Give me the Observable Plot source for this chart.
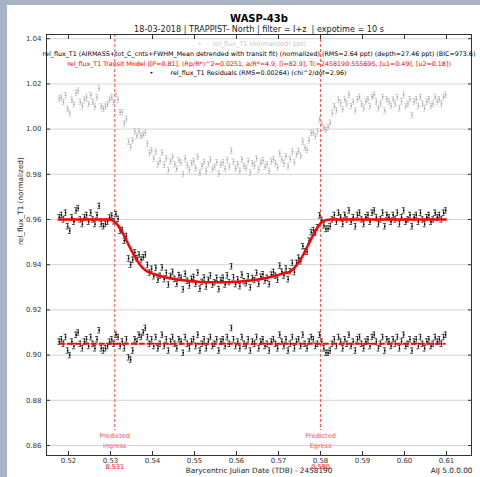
<!DOCTYPE html>
<html><head><meta charset="utf-8">
<script src="https://cdn.jsdelivr.net/npm/d3@7"></script>
<script src="https://cdn.jsdelivr.net/npm/@observablehq/plot@0.6"></script>
<style>
html,body{margin:0;padding:0;}
body{width:480px;height:477px;background:#a8b4c4;overflow:hidden;position:relative;font-family:"DejaVu Sans",sans-serif;}
#panel{position:absolute;left:7px;top:5px;width:473px;height:472px;background:#fff;}
#panel svg{position:absolute;left:0;top:0;overflow:visible;}
</style></head><body><div id="panel"></div>
<script>
// ---- data ----
const times = [
0.5178,0.5183,0.5188,0.5193,0.5198,0.5203,0.5208,0.5213,0.5218,0.5223,
0.5228,0.5233,0.5238,0.5243,0.5248,0.5253,0.5258,0.5263,0.5268,0.5273,
0.5278,0.5283,0.5288,0.5293,0.5298,0.5303,0.5308,0.5313,0.5318,0.5323,
0.5328,0.5333,0.5338,0.5343,0.5348,0.5353,0.5358,0.5363,0.5368,0.5373,
0.5378,0.5383,0.5388,0.5393,0.5398,0.5403,0.5408,0.5413,0.5418,0.5423,
0.5428,0.5433,0.5438,0.5443,0.5448,0.5453,0.5458,0.5463,0.5468,0.5473,
0.5478,0.5483,0.5488,0.5493,0.5498,0.5503,0.5508,0.5513,0.5518,0.5523,
0.5528,0.5533,0.5538,0.5543,0.5548,0.5553,0.5558,0.5563,0.5568,0.5573,
0.5578,0.5583,0.5588,0.5593,0.5598,0.5603,0.5608,0.5613,0.5618,0.5623,
0.5628,0.5633,0.5638,0.5643,0.5648,0.5653,0.5658,0.5663,0.5668,0.5673,
0.5678,0.5683,0.5688,0.5693,0.5698,0.5703,0.5708,0.5713,0.5718,0.5723,
0.5728,0.5733,0.5738,0.5743,0.5748,0.5753,0.5758,0.5763,0.5768,0.5773,
0.5778,0.5783,0.5788,0.5793,0.5798,0.5803,0.5808,0.5813,0.5818,0.5823,
0.5828,0.5833,0.5838,0.5843,0.5848,0.5853,0.5858,0.5863,0.5868,0.5873,
0.5878,0.5883,0.5888,0.5893,0.5898,0.5903,0.5908,0.5913,0.5918,0.5923,
0.5928,0.5933,0.5938,0.5943,0.5948,0.5953,0.5958,0.5963,0.5968,0.5973,
0.5978,0.5983,0.5988,0.5993,0.5998,0.6003,0.6008,0.6013,0.6018,0.6023,
0.6028,0.6033,0.6038,0.6043,0.6048,0.6053,0.6058,0.6063,0.6068,0.6073,
0.6078,0.6083,0.6088,0.6093,0.6098];

const grayFlux = [
1.0135,1.0140,1.0120,1.0150,1.0090,1.0070,1.0130,1.0110,1.0160,1.0170,
1.0120,1.0100,1.0130,1.0140,1.0110,1.0150,1.0120,1.0100,1.0140,1.0180,
1.0100,1.0090,1.0100,1.0110,1.0130,1.0140,1.0120,1.0155,1.0130,1.0075,
1.0075,1.0025,1.0045,0.9945,0.9920,0.9950,0.9990,0.9970,0.9990,0.9970,
0.9975,0.9985,0.9935,0.9895,0.9905,0.9868,0.9900,0.9844,0.9860,0.9895,
0.9842,0.9870,0.9818,0.9857,0.9876,0.9845,0.9824,0.9863,0.9852,0.9801,
0.9870,0.9840,0.9819,0.9849,0.9858,0.9828,0.9877,0.9807,0.9836,0.9855,
0.9815,0.9844,0.9864,0.9823,0.9833,0.9853,0.9803,0.9843,0.9853,0.9824,
0.9864,0.9834,0.9904,0.9855,0.9825,0.9845,0.9816,0.9866,0.9837,0.9827,
0.9858,0.9808,0.9849,0.9839,0.9870,0.9820,0.9851,0.9862,0.9833,0.9844,
0.9815,0.9856,0.9867,0.9848,0.9830,0.9892,0.9865,0.9848,0.9880,0.9834,
0.9867,0.9900,0.9853,0.9887,0.9904,0.9882,0.9945,0.9917,0.9908,0.9950,
0.9983,0.9985,0.9968,0.9990,1.0042,1.0024,1.0006,0.9997,1.0008,1.0028,
1.0070,1.0101,1.0082,1.0130,1.0115,1.0088,1.0130,1.0112,1.0152,1.0102,
1.0122,1.0082,1.0132,1.0142,1.0112,1.0092,1.0122,1.0132,1.0102,1.0142,
1.0152,1.0122,1.0092,1.0112,1.0142,1.0082,1.0132,1.0122,1.0102,1.0132,
1.0112,1.0142,1.0092,1.0122,1.0152,1.0102,1.0112,1.0132,1.0062,1.0122,
1.0132,1.0102,1.0142,1.0112,1.0092,1.0122,1.0132,1.0102,1.0112,1.0142,
1.0122,1.0132,1.0112,1.0142,1.0152];

const detrendedFlux = [
0.9610,0.9620,0.9600,0.9630,0.9570,0.9550,0.9610,0.9590,0.9640,0.9650,
0.9600,0.9580,0.9610,0.9620,0.9590,0.9630,0.9600,0.9580,0.9620,0.9660,
0.9580,0.9570,0.9580,0.9590,0.9609,0.9617,0.9592,0.9624,0.9603,0.9550,
0.9554,0.9506,0.9527,0.9428,0.9400,0.9422,0.9455,0.9429,0.9445,0.9423,
0.9433,0.9445,0.9399,0.9365,0.9382,0.9349,0.9386,0.9333,0.9351,0.9388,
0.9336,0.9364,0.9312,0.9350,0.9368,0.9337,0.9315,0.9354,0.9342,0.9291,
0.9360,0.9329,0.9308,0.9337,0.9346,0.9315,0.9365,0.9294,0.9324,0.9343,
0.9303,0.9333,0.9352,0.9312,0.9322,0.9342,0.9292,0.9332,0.9342,0.9312,
0.9353,0.9323,0.9393,0.9344,0.9314,0.9335,0.9305,0.9356,0.9327,0.9318,
0.9349,0.9300,0.9341,0.9332,0.9364,0.9315,0.9347,0.9358,0.9330,0.9342,
0.9314,0.9356,0.9368,0.9351,0.9333,0.9396,0.9369,0.9352,0.9383,0.9336,
0.9371,0.9408,0.9367,0.9408,0.9431,0.9415,0.9482,0.9459,0.9457,0.9506,
0.9544,0.9553,0.9541,0.9566,0.9618,0.9598,0.9574,0.9558,0.9560,0.9570,
0.9600,0.9620,0.9590,0.9630,0.9610,0.9580,0.9620,0.9600,0.9640,0.9590,
0.9610,0.9570,0.9620,0.9630,0.9600,0.9580,0.9610,0.9620,0.9590,0.9630,
0.9640,0.9610,0.9580,0.9600,0.9630,0.9570,0.9620,0.9610,0.9590,0.9620,
0.9600,0.9630,0.9580,0.9610,0.9640,0.9590,0.9600,0.9620,0.9570,0.9610,
0.9620,0.9590,0.9630,0.9600,0.9580,0.9610,0.9620,0.9590,0.9600,0.9630,
0.9610,0.9620,0.9600,0.9630,0.9640];

const residualFlux = [
0.9060,0.9070,0.9050,0.9080,0.9020,0.9000,0.9060,0.9040,0.9090,0.9100,
0.9050,0.9030,0.9060,0.9070,0.9040,0.9080,0.9050,0.9030,0.9070,0.9110,
0.9030,0.9020,0.9030,0.9040,0.9060,0.9070,0.9050,0.9090,0.9080,0.9040,
0.9060,0.9030,0.9070,0.8990,0.8980,0.9020,0.9070,0.9060,0.9090,0.9080,
0.9100,0.9120,0.9080,0.9050,0.9070,0.9040,0.9080,0.9030,0.9050,0.9090,
0.9040,0.9070,0.9020,0.9060,0.9080,0.9050,0.9030,0.9070,0.9060,0.9010,
0.9080,0.9050,0.9030,0.9060,0.9070,0.9040,0.9090,0.9020,0.9050,0.9070,
0.9030,0.9060,0.9080,0.9040,0.9050,0.9070,0.9020,0.9060,0.9070,0.9040,
0.9080,0.9050,0.9120,0.9070,0.9040,0.9060,0.9030,0.9080,0.9050,0.9040,
0.9070,0.9020,0.9060,0.9050,0.9080,0.9030,0.9060,0.9070,0.9040,0.9050,
0.9020,0.9060,0.9070,0.9050,0.9030,0.9090,0.9060,0.9040,0.9070,0.9020,
0.9050,0.9080,0.9030,0.9060,0.9070,0.9040,0.9090,0.9050,0.9030,0.9060,
0.9080,0.9070,0.9040,0.9050,0.9090,0.9060,0.9030,0.9010,0.9010,0.9020,
0.9050,0.9070,0.9040,0.9080,0.9060,0.9030,0.9070,0.9050,0.9090,0.9040,
0.9060,0.9020,0.9070,0.9080,0.9050,0.9030,0.9060,0.9070,0.9040,0.9080,
0.9090,0.9060,0.9030,0.9050,0.9080,0.9020,0.9070,0.9060,0.9040,0.9070,
0.9050,0.9080,0.9030,0.9060,0.9090,0.9040,0.9050,0.9070,0.9020,0.9060,
0.9070,0.9040,0.9080,0.9050,0.9030,0.9060,0.9070,0.9040,0.9050,0.9080,
0.9060,0.9070,0.9050,0.9080,0.9090];

const modelTimes = [0.5178,0.5293,0.5303,0.5313,0.5323,0.5333,0.5343,0.5353,0.5363,0.5373,
  0.5383,0.5393,0.5403,0.5423,0.5448,0.5478,0.5513,0.5557,0.5603,0.5638,
  0.5668,0.5693,0.5713,0.5723,0.5733,0.5743,0.5753,0.5763,0.5773,0.5783,
  0.5793,0.5803,0.5813,0.5823,0.6098];
const modelFlux = [0.9600,0.9600,0.9597,0.9584,0.9560,0.9526,0.9488,0.9452,0.9419,0.9393,
  0.9375,0.9365,0.9359,0.9348,0.9338,0.9330,0.9324,0.9322,0.9325,0.9331,
  0.9340,0.9351,0.9362,0.9366,0.9378,0.9398,0.9425,0.9459,0.9496,0.9533,
  0.9566,0.9588,0.9598,0.9600,0.9600];

const residualBaseline = 0.905;
const fluxError = 0.0012;
const predictedTimes = [0.531, 0.580];
const predictedNames = ["Ingress", "Egress"];
const predictedLabels = ["0.531", "0.580"];
const xTicks = [0.52,0.53,0.54,0.55,0.56,0.57,0.58,0.59,0.60,0.61];
const yTicks = [0.86,0.88,0.90,0.92,0.94,0.96,0.98,1.00,1.02,1.04];

const titleText = "WASP-43b";
const subtitleText = "18-03-2018 | TRAPPIST- North | filter = I+z  | expotime = 10 s";
const legendGray = "rel_flux_T1 (normalized) ppt)";
const legendBlack = "rel_flux_T1 (AIRMASS+tot_C_cnts+FWHM_Mean detrended with transit fit) (normalized) (RMS=2.64 ppt) (depth=27.46 ppt) (BIC=973.6)";
const legendModel = "rel_flux_T1 Transit Model ([P=0.81], (Rp/R*)^2=0.0251, a/R*=4.9, [i=82.9], Tc=2458190.555695, [u1=0.49], [u2=0.18])";
const legendResid = "rel_flux_T1 Residuals (RMS=0.00264) (chi^2/dof=2.96)";
const xLabel = "Barycentric Julian Date (TDB) - 2458190";
const yLabel = "rel_flux_T1 (normalized)";
const versionText = "AIJ 5.0.0.00";

// ---- build ----
const rows = times.map((t, i) => ({t, gray: grayFlux[i], det: detrendedFlux[i], res: residualFlux[i]}));
const model = modelTimes.map((t, i) => ({t, f: modelFlux[i]}));
const predicted = predictedTimes.map((t, i) => ({t, name: predictedNames[i], label: predictedLabels[i]}));
const capHalf = 0.00035;

function errMarks(key, barColor, dotColor) {
  return [
    Plot.ruleX(rows, {x: "t", y1: d => d[key] - fluxError, y2: d => d[key] + fluxError, stroke: barColor, strokeWidth: 0.8}),
    Plot.ruleY(rows, {y: d => d[key] + fluxError, x1: d => d.t - capHalf, x2: d => d.t + capHalf, stroke: barColor, strokeWidth: 0.8}),
    Plot.ruleY(rows, {y: d => d[key] - fluxError, x1: d => d.t - capHalf, x2: d => d.t + capHalf, stroke: barColor, strokeWidth: 0.8}),
    Plot.dot(rows, {x: "t", y: key, r: 0.9, fill: dotColor, stroke: null})
  ];
}

const fmt = d3.format(".2f");
const blank = () => "";
const red = "#ff0000";
const softRed = "#ff5555";

const chart = Plot.plot({
  width: 473, height: 472,
  marginTop: 29, marginRight: 9, marginBottom: 22, marginLeft: 39,
  style: {fontFamily: "DejaVu Sans, sans-serif", background: "transparent", overflow: "visible", color: "#333"},
  x: {domain: [0.51476, 0.61595], label: null},
  y: {domain: [0.85558, 1.04186], label: null},
  marks: [
    Plot.gridY(yTicks, {stroke: "#d4d4d4", strokeOpacity: 1}),
    Plot.ruleX(predictedTimes, {x: d => d, stroke: softRed, strokeDasharray: "3,2", strokeWidth: 1, insetBottom: 25}),
    ...errMarks("gray", "#c4c4c4", "#a8a8a8"),
    ...errMarks("det", "#222", "#000"),
    ...errMarks("res", "#222", "#000"),
    Plot.line(model, {x: "t", y: "f", stroke: red, strokeWidth: 2.5, curve: "monotone-x"}),
    Plot.ruleY([residualBaseline], {x1: times[0], x2: times[times.length - 1], stroke: red, strokeWidth: 2, strokeDasharray: "6,2"}),
    Plot.frame({stroke: "#333"}),
    Plot.axisX(xTicks, {anchor: "bottom", tickSize: 4, dy: -4, tickFormat: blank, label: null}),
    Plot.axisX(xTicks, {anchor: "top", tickSize: 4, dy: 4, tickFormat: blank, label: null}),
    Plot.axisY(yTicks, {anchor: "left", tickSize: 4, dx: 4, tickFormat: blank, label: null}),
    Plot.axisY(yTicks, {anchor: "right", tickSize: 4, dx: -4, tickFormat: blank, label: null}),
    Plot.axisX(xTicks, {anchor: "bottom", tickSize: 0, tickPadding: 3, tickFormat: fmt, fontSize: 7, label: null}),
    Plot.axisY(yTicks, {anchor: "left", tickSize: 0, tickPadding: 5, tickFormat: fmt, fontSize: 7, label: null}),
    // predicted ingress / egress
    Plot.text(predicted, {x: "t", frameAnchor: "bottom", dy: -18, text: () => "Predicted", fill: softRed, fontSize: 6.5}),
    Plot.text(predicted, {x: "t", frameAnchor: "bottom", dy: -8, text: "name", fill: softRed, fontSize: 6.5}),
    Plot.text(predicted, {x: "t", frameAnchor: "bottom", dy: 13, text: "label", fill: red, fontSize: 6.5}),
    // titles
    Plot.text([titleText], {frameAnchor: "top", dy: -20, text: d => d, fontSize: 10, fontWeight: "bold", fill: "#000"}),
    Plot.text([subtitleText], {frameAnchor: "top", dy: -8, text: d => d, fontSize: 8.1, fill: "#222"}),
    // legend
    Plot.text(["•"], {frameAnchor: "top", dy: 7, dx: -59.5, text: d => d, fontSize: 6.5, fill: "#c8c8c8"}),
    Plot.text([legendGray], {frameAnchor: "top", dy: 7, dx: -46.5, textAnchor: "start", text: d => d, fontSize: 6.5, fill: "#c8c8c8"}),
    Plot.text([legendBlack], {frameAnchor: "top", dy: 17, text: d => d, fontSize: 6.35, fill: "#000"}),
    Plot.text([legendModel], {frameAnchor: "top", dy: 27, text: d => d, fontSize: 6.35, fill: red}),
    Plot.text(["•"], {frameAnchor: "top", dy: 36, dx: -107.5, text: d => d, fontSize: 6.5, fill: "#000"}),
    Plot.text([legendResid], {frameAnchor: "top", dy: 36, dx: -88.5, textAnchor: "start", text: d => d, fontSize: 6.35, fill: "#000"}),
    // axis labels
    Plot.text([yLabel], {frameAnchor: "left", dx: -26, rotate: -90, text: d => d, fontSize: 7.3, fill: "#222"}),
    Plot.text([xLabel], {frameAnchor: "bottom", dy: 17, text: d => d, fontSize: 7.3, fill: "#222"}),
    Plot.text([versionText], {frameAnchor: "bottom-right", dy: 17, dx: 1, textAnchor: "end", text: d => d, fontSize: 7.3, fill: "#222"})
  ]
});
document.getElementById("panel").appendChild(chart);
</script></body></html>
